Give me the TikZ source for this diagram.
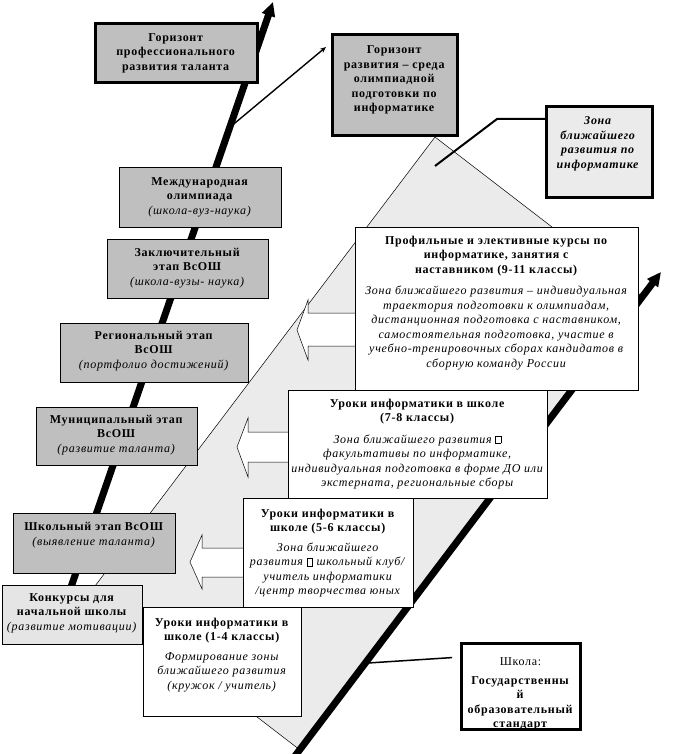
\documentclass[tikz,border=0pt]{standalone}
\usepackage{fontspec}
\setmainfont{Liberation Serif}[LetterSpace=6]
\usetikzlibrary{arrows.meta}
\definecolor{boxgray}{gray}{0.75}
\definecolor{zonefill}{gray}{0.92}
\definecolor{konkfill}{gray}{0.9}
\definecolor{zonabox}{gray}{0.92}
\newcommand\tofu{{\setlength\fboxsep{0pt}\setlength\fboxrule{0.5pt}\fbox{\rule{0pt}{7pt}\hspace{5pt}}}}
\begin{document}
\begin{tikzpicture}[x=1pt,y=-1pt,
  box/.style={draw, line width=0.8pt, anchor=north west, inner sep=0pt, outer sep=0pt},
  gbox/.style={box, fill=boxgray},
  wbox/.style={box, fill=white},
  heavy/.style={line width=3pt},
  txt/.style={align=center, inner sep=0pt, font=\fontsize{12}{14.5}\selectfont},
  bigarrow/.style={line width=7pt, -{Triangle[length=14pt,width=13pt]}},
  blockarrow/.style={draw, fill=white, line width=0.5pt},
]
\useasboundingbox (0,0) rectangle (697,754);

% zone of proximal development
\filldraw[fill=zonefill, draw=black, line width=0.5pt] (435,137) -- (643,297) -- (300,750) -- (92,590) -- cycle;

% thick arrows
\coordinate (L0) at (70,590);
\coordinate (L1) at (273,2);
\draw[bigarrow] (L0) -- (L1);
\coordinate (R0) at (295,756);
\coordinate (R1) at (661,272);
\draw[bigarrow] (R0) -- (R1);

% thin arrow
\coordinate (T0) at (229,128);
\coordinate (T1) at (326,47);
\draw[line width=1.4pt, -{Stealth[length=6pt,width=5pt]}] (T0) -- (T1);

% block arrows
\draw[blockarrow] (355,313) -- (308,313) -- (308,300) -- (297,330) -- (308,360) -- (308,346) -- (355,346);
\draw[blockarrow] (288,432) -- (248,432) -- (248,418) -- (237,447) -- (248,477) -- (248,462) -- (288,462);
\draw[blockarrow] (243,548) -- (202,548) -- (202,535) -- (190,562) -- (202,589) -- (202,577) -- (243,577);

% top boxes
\node[gbox, heavy, minimum width=162pt, minimum height=59pt] (hprof) at (95,24) {};
\node[txt] (hproft) at (176,53) {\textbf{Горизонт}\\ \textbf{профессионального}\\ \textbf{развития таланта}};

\node[gbox, heavy, minimum width=125pt, minimum height=101pt] (hraz) at (332,35) {};
\node[txt] (hrazt) at (394.5,80) {\textbf{Горизонт}\\ \textbf{развития – среда}\\ \textbf{олимпиадной}\\ \textbf{подготовки по}\\ \textbf{информатике}};

\node[box, heavy, fill=zonabox, minimum width=106pt, minimum height=90pt] (zona) at (546,107) {};
\node[txt] (zonat) at (598,144) {\textbf{\textit{Зона}}\\ \textbf{\textit{ближайшего}}\\ \textbf{\textit{развития по}}\\ \textbf{\textit{информатике}}};
\coordinate (Z1) at (497,119);
\coordinate (Z2) at (435,166);
\draw[line width=2pt] ([yshift=-12pt]zona.north west) -- (Z1) -- (Z2);

% left column
\node[gbox, minimum width=162pt, minimum height=60pt] (intl) at (119,167) {};
\node[txt] (intlt) at (200,197) {\textbf{Международная}\\ \textbf{олимпиада}\\ \textit{(школа-вуз-наука)}};

\node[gbox, minimum width=161pt, minimum height=59pt] (fin) at (107,239) {};
\node[txt] (fint) at (187.5,268) {\textbf{Заключительный}\\ \textbf{этап ВсОШ}\\ \textit{(школа-вузы- наука)}};

\node[gbox, minimum width=188pt, minimum height=59pt] (reg) at (60,323) {};
\node[txt] (regt) at (154,351) {\textbf{Региональный этап}\\ \textbf{ВсОШ}\\ \textit{(портфолио достижений)}};

\node[gbox, minimum width=161pt, minimum height=58pt] (mun) at (36,407) {};
\node[txt] (munt) at (116.5,435) {\textbf{Муниципальный этап}\\ \textbf{ВсОШ}\\ \textit{(развитие таланта)}};

\node[gbox, minimum width=162pt, minimum height=60pt] (sch) at (13,513) {};
\node[txt] (scht) at (94,535) {\textbf{Школьный этап ВсОШ}\\ \textit{(выявление таланта)}};

\node[box, fill=konkfill, minimum width=140pt, minimum height=59pt] (konk) at (2,585) {};
\node[txt] (konkt) at (72,613) {\textbf{Конкурсы для}\\ \textbf{начальной школы}\\ \textit{(развитие мотивации)}};

% right column
\node[wbox, minimum width=283pt, minimum height=163pt] (prof) at (355,227) {};
\node[txt] (proft) at (496.5,303) {\textbf{Профильные и элективные курсы по}\\ \textbf{информатике, занятия с}\\ \textbf{наставником (9-11 классы)}\\[7pt]
\textit{Зона ближайшего развития – индивидуальная}\\ \textit{траектория подготовки к олимпиадам,}\\ \textit{дистанционная подготовка с наставником,}\\ \textit{самостоятельная подготовка, участие в}\\ \textit{учебно-тренировочных сборах кандидатов в}\\ \textit{сборную команду России}};

\node[wbox, minimum width=259pt, minimum height=108pt] (c78) at (288,390) {};
\node[txt] (c78t) at (417.5,444) {\textbf{Уроки информатики в школе}\\ \textbf{(7-8 классы)}\\[7pt]
\textit{Зона ближайшего развития \tofu}\\ \textit{факультативы по информатике,}\\ \textit{индивидуальная подготовка в форме ДО или}\\ \textit{экстерната, региональные сборы}};

\node[wbox, minimum width=170pt, minimum height=109pt] (c56) at (243,498) {};
\node[txt] (c56t) at (328,553) {\textbf{Уроки информатики в}\\ \textbf{школе (5-6 классы)}\\[5pt]
\textit{Зона ближайшего}\\ \textit{развития \tofu{} школьный клуб/}\\ \textit{учитель информатики}\\ \textit{/центр творчества юных}};

\node[wbox, minimum width=158pt, minimum height=109pt] (c14) at (143,607) {};
\node[txt] (c14t) at (222,655) {\textbf{Уроки информатики в}\\ \textbf{школе (1-4 классы)}\\[5pt]
\textit{Формирование зоны}\\ \textit{ближайшего развития}\\ \textit{(кружок / учитель)}};

% school standard
\node[wbox, heavy, minimum width=119pt, minimum height=86pt] (school) at (461,643) {};
\begin{scope}
\clip (461,643) rectangle (580,729);
\node[txt] (schoolt) at (520.5,694) {Школа:\\[4pt] \textbf{Государственны}\\ \textbf{й}\\ \textbf{образовательный}\\ \textbf{стандарт}};
\end{scope}
\draw[heavy] (school.south west) rectangle (school.north east);
\coordinate (S1) at (368,663);
\draw[line width=1.5pt, shorten <=9pt] ([yshift=-14pt]school.north west) -- (S1);
\end{tikzpicture}
\end{document}
